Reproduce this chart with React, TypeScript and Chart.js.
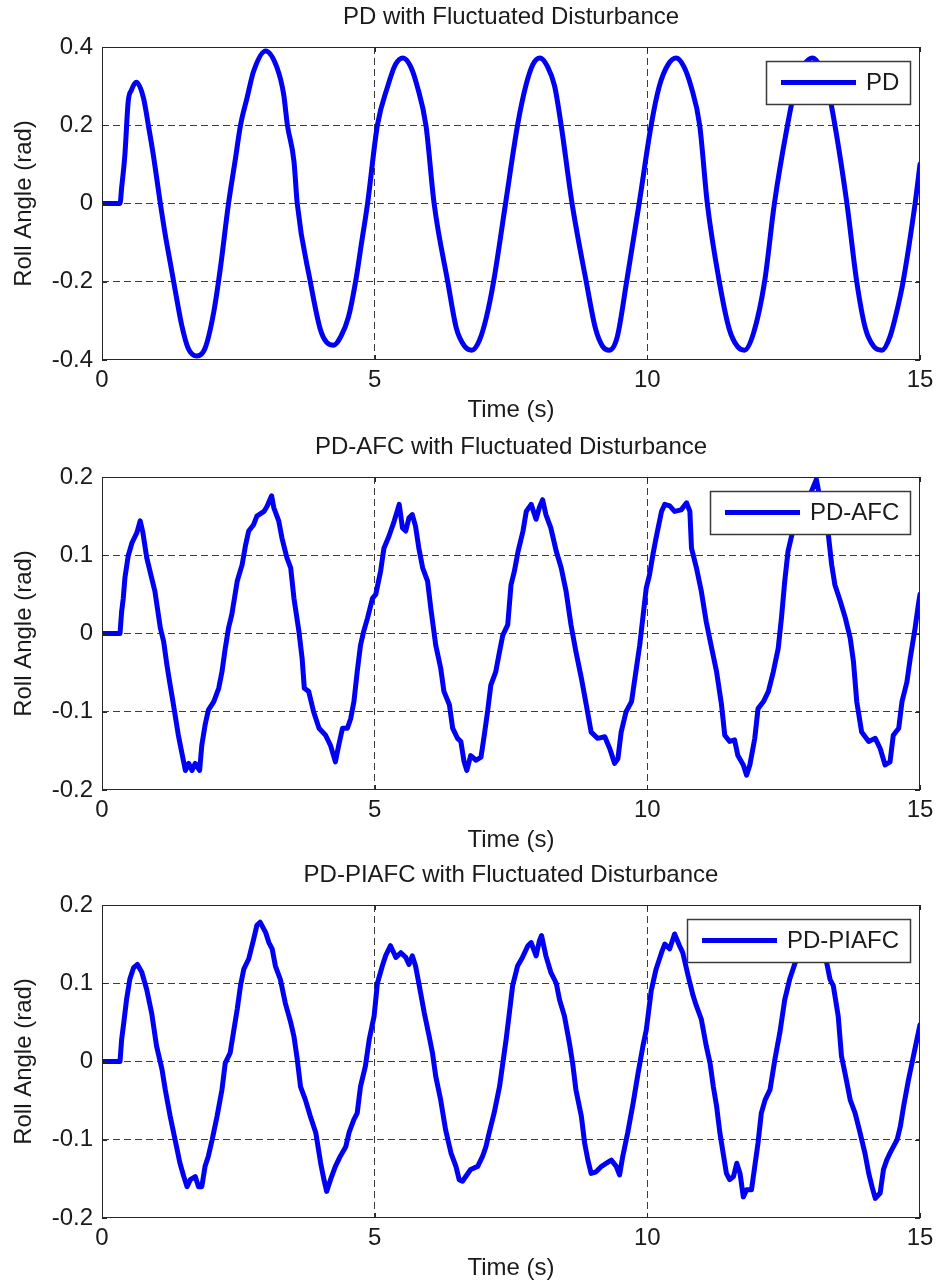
import React, { useEffect, useRef } from "react";
import { Chart, registerables } from "chart.js";

Chart.register(...registerables);

const FONT = "'Liberation Sans', Arial, Helvetica, sans-serif";
const BLUE = "#0000f5";
const GRID = "#3c3c3c";

// ---- axis ticks ----
const xTicks = [0, 5, 10, 15];
const xTickLabels = ["0", "5", "10", "15"];
const pdYTicks = [-0.4, -0.2, 0, 0.2, 0.4];
const pdYTickLabels = ["-0.4", "-0.2", "0", "0.2", "0.4"];
const afcYTicks = [-0.2, -0.1, 0, 0.1, 0.2];
const afcYTickLabels = ["-0.2", "-0.1", "0", "0.1", "0.2"];

// ---- PD ----
const pdTime = [0, 0.33, 0.36, 0.42, 0.48, 0.54, 0.63, 0.76, 0.85, 0.94, 1.07, 1.16, 1.25, 1.34, 1.46, 1.58, 1.74, 1.89, 2.05, 2.17, 2.32, 2.44, 2.54, 2.66, 2.78, 3.0, 3.21, 3.33, 3.4, 3.52, 3.58, 3.82, 4.0, 4.12, 4.25, 4.38, 4.52, 4.65, 4.76, 4.87, 5.05, 5.24, 5.38, 5.52, 5.66, 5.78, 5.94, 6.09, 6.34, 6.5, 6.65, 6.78, 6.92, 7.05, 7.18, 7.4, 7.62, 7.77, 7.9, 8.03, 8.17, 8.3, 8.42, 8.62, 8.88, 9.05, 9.18, 9.3, 9.45, 9.62, 9.85, 10.07, 10.22, 10.38, 10.53, 10.67, 10.8, 10.96, 11.1, 11.32, 11.5, 11.65, 11.78, 11.95, 12.15, 12.33, 12.57, 12.72, 12.88, 13.03, 13.17, 13.3, 13.44, 13.66, 13.84, 14.0, 14.15, 14.3, 14.45, 14.6, 14.69, 14.91, 15.0];
const pdRoll = [0, 0, 0.04, 0.125, 0.26, 0.29, 0.31, 0.27, 0.2, 0.125, 0, -0.08, -0.15, -0.22, -0.31, -0.37, -0.39, -0.37, -0.277, -0.166, 0, 0.108, 0.2, 0.27, 0.338, 0.39, 0.347, 0.28, 0.2, 0.108, 0, -0.2, -0.32, -0.355, -0.362, -0.34, -0.29, -0.2, -0.1, 0, 0.2, 0.3, 0.355, 0.372, 0.35, 0.3, 0.2, 0, -0.2, -0.32, -0.365, -0.375, -0.35, -0.29, -0.2, 0, 0.2, 0.3, 0.355, 0.372, 0.35, 0.3, 0.2, 0, -0.2, -0.32, -0.365, -0.375, -0.34, -0.2, 0, 0.2, 0.3, 0.355, 0.372, 0.35, 0.3, 0.2, 0, -0.2, -0.32, -0.365, -0.375, -0.33, -0.2, 0, 0.2, 0.3, 0.355, 0.372, 0.35, 0.3, 0.2, 0, -0.2, -0.32, -0.365, -0.375, -0.34, -0.26, -0.2, 0, 0.1];

// ---- PD-AFC ----
const afcTime = [0, 0.33, 0.36, 0.39, 0.42, 0.48, 0.55, 0.64, 0.70, 0.75,
  0.82, 0.91, 0.97, 1.07, 1.13, 1.19, 1.25, 1.31, 1.40, 1.46,
  1.53, 1.59, 1.65, 1.71, 1.79, 1.83, 1.89, 1.95, 2.05, 2.14,
  2.20, 2.26, 2.32, 2.38, 2.48, 2.57, 2.63, 2.69, 2.78, 2.84,
  2.97, 3.03, 3.11, 3.15, 3.24, 3.30, 3.39, 3.46, 3.52, 3.61,
  3.67, 3.71, 3.79, 3.88, 3.98, 4.10, 4.19, 4.28, 4.34, 4.41,
  4.50, 4.56, 4.62, 4.68, 4.74, 4.80, 4.87, 4.96, 5.02, 5.11,
  5.17, 5.26, 5.36, 5.45, 5.51, 5.57, 5.63, 5.69, 5.75, 5.81,
  5.88, 5.97, 6.03, 6.12, 6.21, 6.27, 6.37, 6.43, 6.52, 6.58,
  6.64, 6.69, 6.76, 6.86, 6.95, 7.01, 7.07, 7.13, 7.22, 7.29,
  7.35, 7.44, 7.50, 7.56, 7.63, 7.72, 7.78, 7.87, 7.96, 8.02,
  8.08, 8.14, 8.23, 8.33, 8.42, 8.51, 8.60, 8.69, 8.79, 8.88,
  8.97, 9.09, 9.22, 9.31, 9.40, 9.46, 9.52, 9.61, 9.71, 9.80,
  9.86, 9.98, 10.04, 10.10, 10.16, 10.26, 10.32, 10.41, 10.50, 10.62,
  10.72, 10.78, 10.81, 10.90, 10.99, 11.08, 11.18, 11.27, 11.36, 11.42,
  11.51, 11.60, 11.66, 11.76, 11.82, 11.88, 11.97, 12.03, 12.13, 12.22,
  12.31, 12.40, 12.46, 12.52, 12.58, 12.65, 12.75, 12.90, 13.00, 13.10,
  13.20, 13.32, 13.38, 13.44, 13.54, 13.63, 13.72, 13.78, 13.84, 13.93,
  14.06, 14.18, 14.27, 14.36, 14.45, 14.51, 14.61, 14.67, 14.76, 14.82,
  14.91, 14.97, 15.0];
const afcRoll = [0, 0, 0.028, 0.045, 0.071, 0.099, 0.116, 0.129, 0.144, 0.129,
  0.097, 0.071, 0.054, 0.007, -0.01, -0.04, -0.066, -0.091, -0.13, -0.151,
  -0.175, -0.166, -0.175, -0.166, -0.175, -0.143, -0.117, -0.098, -0.087, -0.07,
  -0.049, -0.019, 0.007, 0.024, 0.067, 0.088, 0.112, 0.131, 0.139, 0.15,
  0.156, 0.163, 0.176, 0.161, 0.144, 0.122, 0.097, 0.084, 0.045, 0.003,
  -0.032, -0.07, -0.074, -0.1, -0.121, -0.13, -0.143, -0.164, -0.143, -0.121,
  -0.121, -0.109, -0.087, -0.049, -0.015, 0.003, 0.02, 0.045, 0.05, 0.08,
  0.109, 0.124, 0.144, 0.165, 0.135, 0.131, 0.148, 0.152, 0.137, 0.109,
  0.084, 0.067, 0.032, -0.015, -0.044, -0.074, -0.091, -0.121, -0.134, -0.138,
  -0.164, -0.175, -0.156, -0.162, -0.158, -0.13, -0.1, -0.066, -0.049, -0.023,
  -0.002, 0.011, 0.062, 0.079, 0.105, 0.131, 0.156, 0.165, 0.146, 0.161,
  0.171, 0.152, 0.135, 0.105, 0.084, 0.054, 0.011, -0.023, -0.057, -0.091,
  -0.126, -0.134, -0.132, -0.147, -0.166, -0.16, -0.126, -0.1, -0.087, -0.044,
  -0.015, 0.058, 0.075, 0.1, 0.122, 0.156, 0.165, 0.163, 0.156, 0.158,
  0.167, 0.156, 0.109, 0.084, 0.054, 0.015, -0.019, -0.049, -0.091, -0.13,
  -0.138, -0.136, -0.156, -0.168, -0.181, -0.168, -0.134, -0.096, -0.087, -0.074,
  -0.049, -0.019, 0.02, 0.067, 0.105, 0.126, 0.15, 0.172, 0.18, 0.197,
  0.16, 0.126, 0.088, 0.062, 0.041, 0.02, -0.006, -0.036, -0.087, -0.126,
  -0.138, -0.134, -0.147, -0.168, -0.164, -0.13, -0.121, -0.087, -0.062, -0.032,
  0.007, 0.037, 0.05];

// ---- PD-PIAFC ----
const piafcTime = [0, 0.33, 0.36, 0.40, 0.45, 0.51, 0.58, 0.65, 0.73, 0.82,
  0.91, 1.00, 1.10, 1.16, 1.25, 1.34, 1.43, 1.50, 1.56, 1.62,
  1.71, 1.77, 1.83, 1.89, 1.95, 2.02, 2.11, 2.20, 2.26, 2.35,
  2.41, 2.48, 2.54, 2.60, 2.69, 2.78, 2.84, 2.90, 3.00, 3.06,
  3.12, 3.18, 3.27, 3.36, 3.46, 3.52, 3.58, 3.64, 3.73, 3.82,
  3.92, 4.01, 4.07, 4.12, 4.19, 4.28, 4.37, 4.47, 4.53, 4.62,
  4.68, 4.74, 4.83, 4.90, 4.99, 5.05, 5.14, 5.20, 5.29, 5.39,
  5.48, 5.57, 5.63, 5.69, 5.75, 5.81, 5.91, 6.00, 6.06, 6.12,
  6.21, 6.30, 6.40, 6.49, 6.55, 6.61, 6.67, 6.76, 6.89, 6.98,
  7.04, 7.10, 7.19, 7.29, 7.35, 7.41, 7.47, 7.53, 7.62, 7.71,
  7.81, 7.87, 7.96, 8.02, 8.06, 8.14, 8.23, 8.33, 8.39, 8.48,
  8.57, 8.63, 8.69, 8.79, 8.85, 8.91, 8.97, 9.06, 9.16, 9.25,
  9.34, 9.43, 9.49, 9.55, 9.64, 9.74, 9.83, 9.92, 9.98, 10.07,
  10.16, 10.26, 10.32, 10.41, 10.50, 10.59, 10.65, 10.75, 10.84, 10.90,
  10.99, 11.08, 11.15, 11.21, 11.27, 11.33, 11.39, 11.45, 11.51, 11.58,
  11.64, 11.70, 11.76, 11.82, 11.91, 11.97, 12.03, 12.09, 12.16, 12.25,
  12.34, 12.43, 12.52, 12.61, 12.71, 12.85, 13.00, 13.10, 13.20, 13.29,
  13.35, 13.41, 13.50, 13.56, 13.66, 13.72, 13.81, 13.90, 13.99, 14.06,
  14.12, 14.18, 14.27, 14.33, 14.39, 14.45, 14.51, 14.58, 14.64, 14.70,
  14.79, 14.88, 14.97, 15.0];
const piafcRoll = [0, 0, 0.028, 0.05, 0.079, 0.105, 0.12, 0.124, 0.114, 0.092,
  0.062, 0.02, -0.01, -0.036, -0.07, -0.1, -0.13, -0.147, -0.16, -0.151,
  -0.147, -0.16, -0.16, -0.134, -0.121, -0.1, -0.07, -0.036, -0.002, 0.011,
  0.037, 0.067, 0.097, 0.118, 0.131, 0.156, 0.174, 0.178, 0.165, 0.152,
  0.144, 0.122, 0.105, 0.075, 0.05, 0.032, 0.003, -0.032, -0.049, -0.07,
  -0.091, -0.13, -0.151, -0.166, -0.151, -0.134, -0.121, -0.109, -0.091, -0.074,
  -0.066, -0.032, -0.006, 0.028, 0.058, 0.1, 0.122, 0.135, 0.148, 0.133,
  0.139, 0.133, 0.124, 0.135, 0.122, 0.1, 0.062, 0.032, 0.011, -0.019,
  -0.049, -0.087, -0.117, -0.134, -0.151, -0.153, -0.147, -0.138, -0.134, -0.121,
  -0.109, -0.091, -0.066, -0.032, -0.002, 0.028, 0.062, 0.097, 0.122, 0.133,
  0.148, 0.152, 0.135, 0.154, 0.161, 0.135, 0.114, 0.1, 0.079, 0.058,
  0.024, -0.002, -0.036, -0.07, -0.104, -0.126, -0.143, -0.141, -0.134, -0.13,
  -0.126, -0.134, -0.145, -0.121, -0.091, -0.053, -0.015, 0.02, 0.04, 0.09,
  0.118, 0.139, 0.15, 0.144, 0.163, 0.148, 0.139, 0.109, 0.084, 0.071,
  0.054, 0.02, -0.002, -0.032, -0.057, -0.091, -0.117, -0.143, -0.151, -0.147,
  -0.13, -0.143, -0.173, -0.164, -0.164, -0.134, -0.104, -0.066, -0.049, -0.036,
  0.003, 0.037, 0.079, 0.105, 0.126, 0.145, 0.158, 0.155, 0.14, 0.126,
  0.105, 0.097, 0.058, 0.007, -0.027, -0.049, -0.066, -0.091, -0.117, -0.143,
  -0.16, -0.175, -0.168, -0.138, -0.126, -0.117, -0.109, -0.1, -0.083, -0.057,
  -0.023, 0.007, 0.037, 0.047];

const CANVAS_W = 936;
const CANVAS_H = 428;

type PanelProps = {
  top: number;
  title: string;
  label: string;
  times: number[];
  values: number[];
  yTicks: number[];
  yTickLabels: string[];
  smooth: boolean;
};

function framePlugin() {
  return {
    id: "matlabFrame",
    afterDatasetsDraw(chart: any) {
      const { ctx, chartArea: a, scales } = chart;
      ctx.save();
      ctx.strokeStyle = "#262626";
      ctx.lineWidth = 1;
      ctx.strokeRect(Math.round(a.left) + 0.5, Math.round(a.top) + 0.5, Math.round(a.right - a.left) - 1, Math.round(a.bottom - a.top) - 1);
      const tl = 5;
      ctx.beginPath();
      scales.x.ticks.forEach((t: any) => {
        const px = Math.round(scales.x.getPixelForValue(t.value)) + 0.5;
        ctx.moveTo(px, a.bottom); ctx.lineTo(px, a.bottom - tl);
        ctx.moveTo(px, a.top); ctx.lineTo(px, a.top + tl);
      });
      scales.y.ticks.forEach((t: any) => {
        const py = Math.round(scales.y.getPixelForValue(t.value)) + 0.5;
        ctx.moveTo(a.left, py); ctx.lineTo(a.left + tl, py);
        ctx.moveTo(a.right, py); ctx.lineTo(a.right - tl, py);
      });
      ctx.stroke();
      ctx.restore();
    },
  };
}

function legendPlugin(label: string) {
  return {
    id: "boxLegend",
    afterDraw(chart: any) {
      const { ctx, chartArea: a } = chart;
      ctx.save();
      ctx.font = `24px ${FONT}`;
      const tw = ctx.measureText(label).width;
      const w = Math.round(tw + 111);
      const h = 43;
      const x = Math.round(a.right - 10 - w);
      const y = Math.round(a.top + 14);
      ctx.fillStyle = "#ffffff";
      ctx.fillRect(x, y, w, h);
      ctx.strokeStyle = "#3a3a3a";
      ctx.lineWidth = 1.5;
      ctx.strokeRect(x + 0.5, y + 0.5, w, h);
      ctx.strokeStyle = BLUE;
      ctx.lineWidth = 5;
      ctx.beginPath();
      ctx.moveTo(x + 15, y + h / 2);
      ctx.lineTo(x + 90, y + h / 2);
      ctx.stroke();
      ctx.fillStyle = "#1a1a1a";
      ctx.textBaseline = "middle";
      ctx.textAlign = "left";
      ctx.fillText(label, x + 100, y + h / 2 + 1);
      ctx.restore();
    },
  };
}

function Panel(props: PanelProps) {
  const ref = useRef<HTMLCanvasElement | null>(null);
  useEffect(() => {
    const canvas = ref.current;
    if (!canvas) return;
    const n = Math.min(props.times.length, props.values.length);
    const data = [];
    for (let i = 0; i < n; i++) data.push({ x: props.times[i], y: props.values[i] });
    const yMin = props.yTicks[0];
    const yMax = props.yTicks[props.yTicks.length - 1];
    const chart = new Chart(canvas, {
      type: "line",
      data: {
        datasets: [
          {
            label: props.label,
            data,
            borderColor: BLUE,
            backgroundColor: BLUE,
            borderWidth: 5,
            pointRadius: 0,
            borderJoinStyle: "round",
            borderCapStyle: "round",
            tension: 0,
            cubicInterpolationMode: props.smooth ? "monotone" : "default",
            fill: false,
          } as any,
        ],
      },
      options: {
        responsive: false,
        animation: false,
        events: [],
        layout: { padding: { left: 0, right: 16, top: 0, bottom: 0 } },
        plugins: {
          legend: { display: false },
          tooltip: { enabled: false },
          title: {
            display: true,
            text: props.title,
            fullSize: false,
            color: "#1a1a1a",
            font: { family: FONT, size: 24, weight: "normal", lineHeight: 1.2 },
            padding: { top: 3, bottom: 15.2 },
          },
        },
        scales: {
          x: {
            type: "linear",
            min: 0,
            max: 15,
            afterBuildTicks: (s: any) => {
              s.ticks = xTicks.map((v) => ({ value: v }));
            },
            afterFit: (s: any) => {
              s.height = CANVAS_H - 360;
              s.paddingLeft = 0;
              s.paddingRight = 0;
            },
            ticks: {
              padding: 6,
              color: "#1a1a1a",
              font: { family: FONT, size: 24, lineHeight: 1.2 },
              maxRotation: 0,
              autoSkip: false,
              callback: (_v: any, i: number) => xTickLabels[i],
            },
            grid: {
              drawTicks: false,
              lineWidth: 1,
              color: (c: any) => (c.index === 0 || c.index === xTicks.length - 1 ? "rgba(0,0,0,0)" : GRID),
            },
            border: { display: false, dash: [7, 4] },
            title: {
              display: true,
              text: "Time (s)",
              color: "#1a1a1a",
              font: { family: FONT, size: 24, lineHeight: 1.2 },
              padding: { top: 0, bottom: 3 },
            },
          },
          y: {
            type: "linear",
            min: yMin,
            max: yMax,
            afterBuildTicks: (s: any) => {
              s.ticks = props.yTicks.map((v) => ({ value: v }));
            },
            afterFit: (s: any) => {
              s.width = 102;
            },
            ticks: {
              padding: 9,
              color: "#1a1a1a",
              font: { family: FONT, size: 24, lineHeight: 1.2 },
              autoSkip: false,
              callback: (_v: any, i: number) => props.yTickLabels[i],
            },
            grid: {
              drawTicks: false,
              lineWidth: 1,
              color: (c: any) => (c.index === 0 || c.index === props.yTicks.length - 1 ? "rgba(0,0,0,0)" : GRID),
            },
            border: { display: false, dash: [7, 4] },
            title: {
              display: true,
              text: "Roll Angle (rad)",
              color: "#1a1a1a",
              font: { family: FONT, size: 24, lineHeight: 1.2 },
              padding: { top: 10, bottom: 0 },
            },
          },
        },
      } as any,
      plugins: [framePlugin(), legendPlugin(props.label)],
    });
    return () => chart.destroy();
  }, []);
  return (
    <canvas
      ref={ref}
      width={CANVAS_W}
      height={CANVAS_H}
      style={{ position: "absolute", left: 0, top: props.top, width: CANVAS_W, height: CANVAS_H, display: "block" }}
    />
  );
}

export default function App() {
  return (
    <div style={{ position: "absolute", left: 0, top: 0, width: 936, height: 1280, overflow: "hidden", background: "#ffffff" }}>
      <Panel top={0} title="PD with Fluctuated Disturbance" label="PD" times={pdTime} values={pdRoll} yTicks={pdYTicks} yTickLabels={pdYTickLabels} smooth={true} />
      <Panel top={430} title="PD-AFC with Fluctuated Disturbance" label="PD-AFC" times={afcTime} values={afcRoll} yTicks={afcYTicks} yTickLabels={afcYTickLabels} smooth={false} />
      <Panel top={858} title="PD-PIAFC with Fluctuated Disturbance" label="PD-PIAFC" times={piafcTime} values={piafcRoll} yTicks={afcYTicks} yTickLabels={afcYTickLabels} smooth={false} />
    </div>
  );
}
